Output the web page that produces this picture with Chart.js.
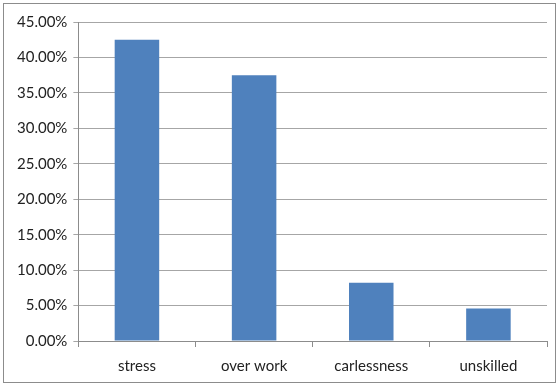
<!DOCTYPE html>
<html lang="en">
<head>
  <meta charset="UTF-8">
  <title>Causes</title>
  <script src="https://cdn.jsdelivr.net/npm/chart.js"></script>
  <style>
    body {
      margin: 0;
      background: #fff;
      overflow: hidden;
    }
    .frame {
      position: absolute;
      left: 3px;
      top: 3px;
      width: 551px;
      height: 378px;
      border: 1px solid #8c8c8c;
    }
    .chart-box {
      position: absolute;
      left: 0;
      top: 0;
      width: 560px;
      height: 385px;
    }
  </style>
</head>
<body>
  <div class="frame"></div>
  <div class="chart-box">
    <canvas id="causesChart"></canvas>
  </div>

  <script>
    const categories = ['stress', 'over work', 'carlessness', 'unskilled'];
    const shares = [42.5, 37.5, 8.2, 4.6];
    const yTicks = [0, 5, 10, 15, 20, 25, 30, 35, 40, 45];

    const fontFamily = "Lato, 'Open Sans', sans-serif";

    const ctx = document.getElementById('causesChart').getContext('2d');
    new Chart(ctx, {
      type: 'bar',
      data: {
        labels: categories,
        datasets: [{
          data: shares,
          backgroundColor: '#4f81bd',
          borderWidth: 0,
          categoryPercentage: 1,
          barPercentage: 0.38
        }]
      },
      options: {
        responsive: true,
        maintainAspectRatio: false,
        animation: false,
        layout: {
          padding: { left: 11, right: 13, top: 22, bottom: 0 }
        },
        plugins: {
          legend: { display: false },
          tooltip: { enabled: false }
        },
        scales: {
          y: {
            min: 0,
            max: 45,
            afterBuildTicks: axis => {
              axis.ticks = yTicks.map(v => ({ value: v }));
            },
            ticks: {
              color: '#222',
              font: { family: fontFamily, size: 15 },
              padding: 6,
              callback: v => v.toFixed(2) + '%'
            },
            grid: {
              color: '#a6a6a6',
              lineWidth: 1,
              tickLength: 5
            },
            border: { color: '#8c8c8c' }
          },
          x: {
            offset: true,
            ticks: {
              color: '#222',
              font: { family: fontFamily, size: 15 },
              padding: 10
            },
            grid: {
              offset: true,
              drawOnChartArea: false,
              color: '#8c8c8c',
              tickLength: 6
            },
            border: { color: '#8c8c8c' }
          }
        }
      }
    });
  </script>
</body>
</html>
